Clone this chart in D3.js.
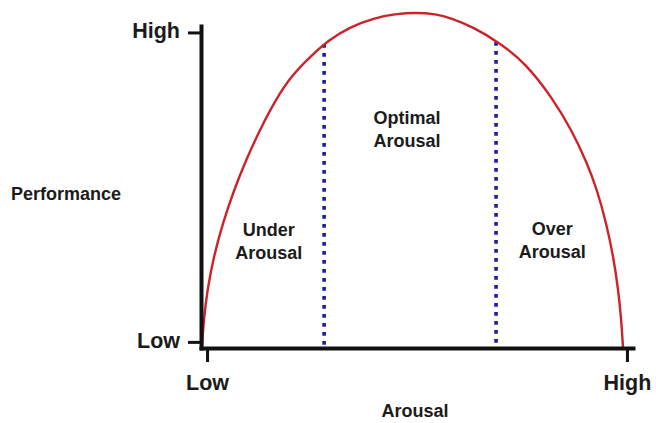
<!DOCTYPE html>
<html lang="en">
  <head>
    <meta charset="utf-8">
    <script type="text/javascript" src="https://cdn.jsdelivr.net/npm/d3@7/dist/d3.min.js"></script>
    <style>
      body { margin: 0; background: #fff; }
      svg text { font-family: "Liberation Sans", Arial, sans-serif; font-weight: bold; fill: #1b1b1b; }
    </style>
  </head>
  <body>
  </body>
  <script type="text/javascript">

    // inverted-U curve (arousal 0-100, performance 0-100)
    var arousal     = [0.23, 0.63, 1.46, 2.92, 5.05, 7.64, 10.42, 13.61, 17.22, 21.06, 25.69, 29.63, 34.49, 40.05, 44.91, 49.77,
                       54.33, 57.85, 62.96, 69.21, 75.07, 81.20, 85.79, 89.38, 91.69, 93.82, 95.46, 96.60, 97.29, 97.69];
    var performance = [0, 8.70, 18.01, 28.26, 38.82, 49.07, 58.39, 67.70, 77.02, 84.78, 90.99, 95.65, 99.69, 102.48, 103.73, 104.19,
                       103.73, 102.48, 99.69, 94.72, 88.51, 77.95, 67.70, 57.45, 49.07, 38.82, 28.26, 18.01, 8.70, 0];

    var xTickValues = [1.4, 98.6];
    var xTickLabels = ['Low', 'High'];
    var yTickValues = [1.9, 98.0];
    var yTickLabels = ['Low', 'High'];

    // dotted zone borders
    var dividerX   = [28.5, 68.3];
    var dividerTop = [94.4, 95.0];

    // zone names
    var zoneLines = [['Under', 'Arousal'], ['Optimal', 'Arousal'], ['Over', 'Arousal']];
    var zoneX     = [15.7, 47.7, 81.3];
    var zoneY     = [34.8, 69.6, 35.1];

    var width = 656, height = 423;

    var svg = d3.select('body').append('svg')
      .attr('width', width)
      .attr('height', height);

    var x = d3.scaleLinear().domain([0, 100]).range([201, 633]);
    var y = d3.scaleLinear().domain([0, 100]).range([348, 26]);

    var points = arousal.map(function(d, i){ return [d, performance[i]]; });

    // zone borders (drawn first so the axis sits on top)
    svg.append('g').selectAll('line')
      .data(dividerX).enter().append('line')
      .attr('x1', function(d){ return x(d); })
      .attr('x2', function(d){ return x(d); })
      .attr('y1', function(d, i){ return y(dividerTop[i]); })
      .attr('y2', y(0))
      .attr('stroke', '#1c1ca4')
      .attr('stroke-width', 3.6)
      .attr('stroke-dasharray', '3.6,5.4');

    // curve
    var line = d3.line()
      .x(function(d){ return x(d[0]); })
      .y(function(d){ return y(d[1]); })
      .curve(d3.curveBasis);

    svg.append('path')
      .datum(points)
      .attr('d', line)
      .attr('fill', 'none')
      .attr('stroke', '#cc2229')
      .attr('stroke-width', 2.4);

    // axes
    var xAxis = d3.axisBottom(x)
      .tickValues(xTickValues)
      .tickFormat(function(d, i){ return xTickLabels[i]; })
      .tickSize(14)
      .tickSizeOuter(0)
      .tickPadding(13);

    var yAxis = d3.axisLeft(y)
      .tickValues(yTickValues)
      .tickFormat(function(d, i){ return yTickLabels[i]; })
      .tickSize(13)
      .tickSizeOuter(0)
      .tickPadding(8);

    var gx = svg.append('g')
      .attr('transform', 'translate(0,' + y(0) + ')')
      .call(xAxis);

    var gy = svg.append('g')
      .attr('transform', 'translate(' + x(0) + ',0)')
      .call(yAxis);

    [gx, gy].forEach(function(g){
      g.select('.domain').attr('stroke', '#111').attr('stroke-width', 4).attr('stroke-linecap', 'square');
      g.selectAll('.tick line').attr('stroke', '#111').attr('stroke-width', 3);
      g.selectAll('.tick text')
        .attr('fill', '#1b1b1b')
        .style('font-family', '"Liberation Sans", Arial, sans-serif')
        .style('font-weight', 'bold')
        .style('font-size', '21.5px');
    });
    gy.selectAll('.tick text').attr('dy', '0.24em');

    // zone labels
    var zones = svg.append('g').selectAll('text')
      .data(zoneLines).enter().append('text')
      .attr('text-anchor', 'middle')
      .style('font-size', '18px');

    zones.selectAll('tspan')
      .data(function(d, i){ return d.map(function(t){ return {t: t, i: i}; }); })
      .enter().append('tspan')
      .attr('x', function(d){ return x(zoneX[d.i]); })
      .attr('y', function(d){ return y(zoneY[d.i]); })
      .attr('dy', function(d, j){ return j === 0 ? 0 : '1.3em'; })
      .text(function(d){ return d.t; });

    // axis titles
    svg.append('text')
      .attr('x', 11)
      .attr('y', 200)
      .style('font-size', '18px')
      .text('Performance');

    svg.append('text')
      .attr('x', 415)
      .attr('y', 417)
      .attr('text-anchor', 'middle')
      .style('font-size', '18px')
      .text('Arousal');

  </script>
</html>
